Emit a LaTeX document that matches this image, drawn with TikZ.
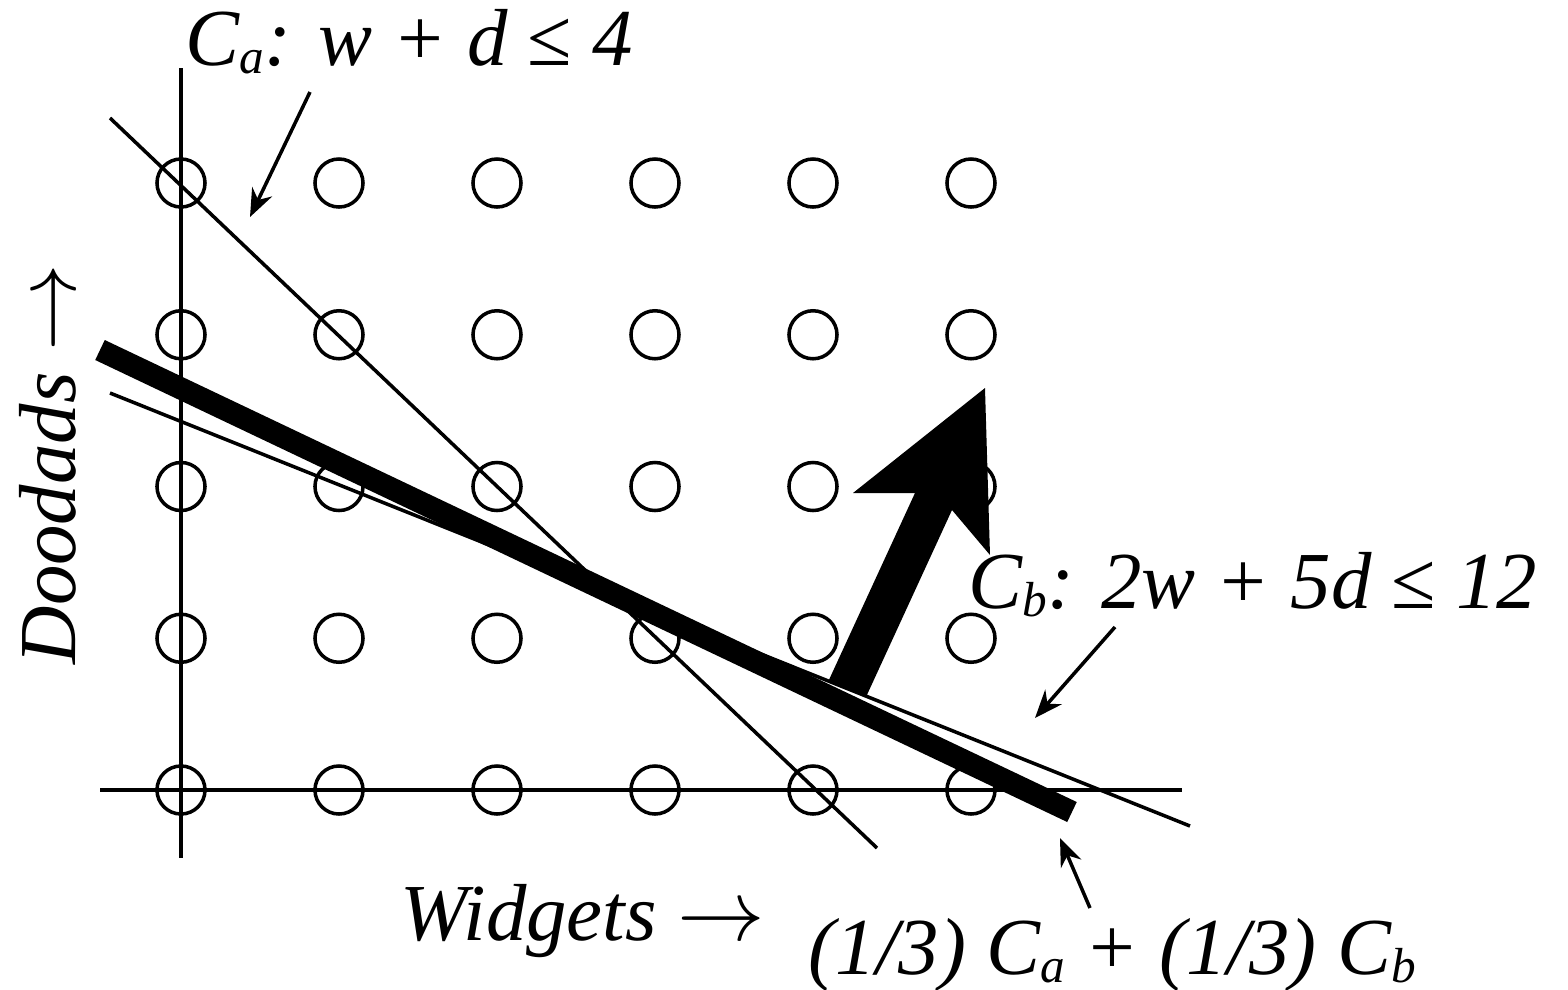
\documentclass[tikz,border=0pt]{standalone}
\usepackage{fontspec}
\setmainfont{Liberation Serif}[ItalicFont={Liberation Serif Italic}]
\usetikzlibrary{arrows.meta}
\newcommand{\lsub}[1]{\raisebox{-0.1em}{\fontsize{14}{14}\selectfont #1}}

\begin{document}
\begin{tikzpicture}[x=0.01cm, y=-0.01cm]
	\tikzset{
		lattice/.style={circle, draw, line width=1pt, minimum size=0.48cm, inner sep=0pt},
		bound/.style={line width=1pt},
		pointer/.style={line width=1pt, -{Stealth[length=0.28cm, width=0.22cm]}},
		lbl/.style={font=\fontsize{23}{27}\selectfont\itshape, inner sep=0pt}
	}
	\useasboundingbox (0,0) rectangle (1568,990);
	\foreach \i in {0,...,5} {
		\foreach \j in {0,...,4} {
			\node[lattice] (p\i\j) at ({181+158*\i},{790-151.75*\j}) {};
		}
	}
	\coordinate (wl) at (100,790);
	\coordinate (wr) at (1182,790);
	\coordinate (dt) at (181,68);
	\coordinate (db) at (181,858);
	\draw[bound] (wl) -- (wr);
	\draw[bound] (dt) -- (db);
	\coordinate (ca1) at (110,118);
	\coordinate (ca2) at (877,848);
	\coordinate (cb1) at (110,393);
	\coordinate (cb2) at (1190,826);
	\coordinate (cc1) at (100,350);
	\coordinate (cc2) at (1072,812);
	\draw[bound] (ca1) -- (ca2);
	\draw[bound] (cb1) -- (cb2);
	\draw[line width=6.3pt] (cc1) -- (cc2);
	\fill (828,682) -- (915,493) -- (853,493) -- (985,388) -- (990,555)
		-- (952,510) -- (866,697) -- cycle;
	\node[lbl, anchor=base west] (laba) at (185,65)
		{C\lsub{a}: w + d {\upshape≤} 4};
	\node[lbl, anchor=base west] (labb) at (968,608)
		{C\lsub{b}: 2w + 5d {\upshape≤} 12};
	\node[lbl, anchor=base west] (labc) at (808,974)
		{(1/3) C\lsub{a} + (1/3) C\lsub{b}};
	\node[lbl, anchor=base west] (labw) at (400,940) {Widgets $\rightarrow$};
	\node[lbl, anchor=base west, rotate=90] (labd) at (75,665) {Doodads $\rightarrow$};
	\coordinate (fa) at (310,92);
	\coordinate (ta) at (250,217);
	\coordinate (fb) at (1115,627);
	\coordinate (tb) at (1035,718);
	\coordinate (fc) at (1090,908);
	\coordinate (tc) at (1060,838);
	\draw[pointer] (fa) -- (ta);
	\draw[pointer] (fb) -- (tb);
	\draw[pointer] (fc) -- (tc);
\end{tikzpicture}
\end{document}
